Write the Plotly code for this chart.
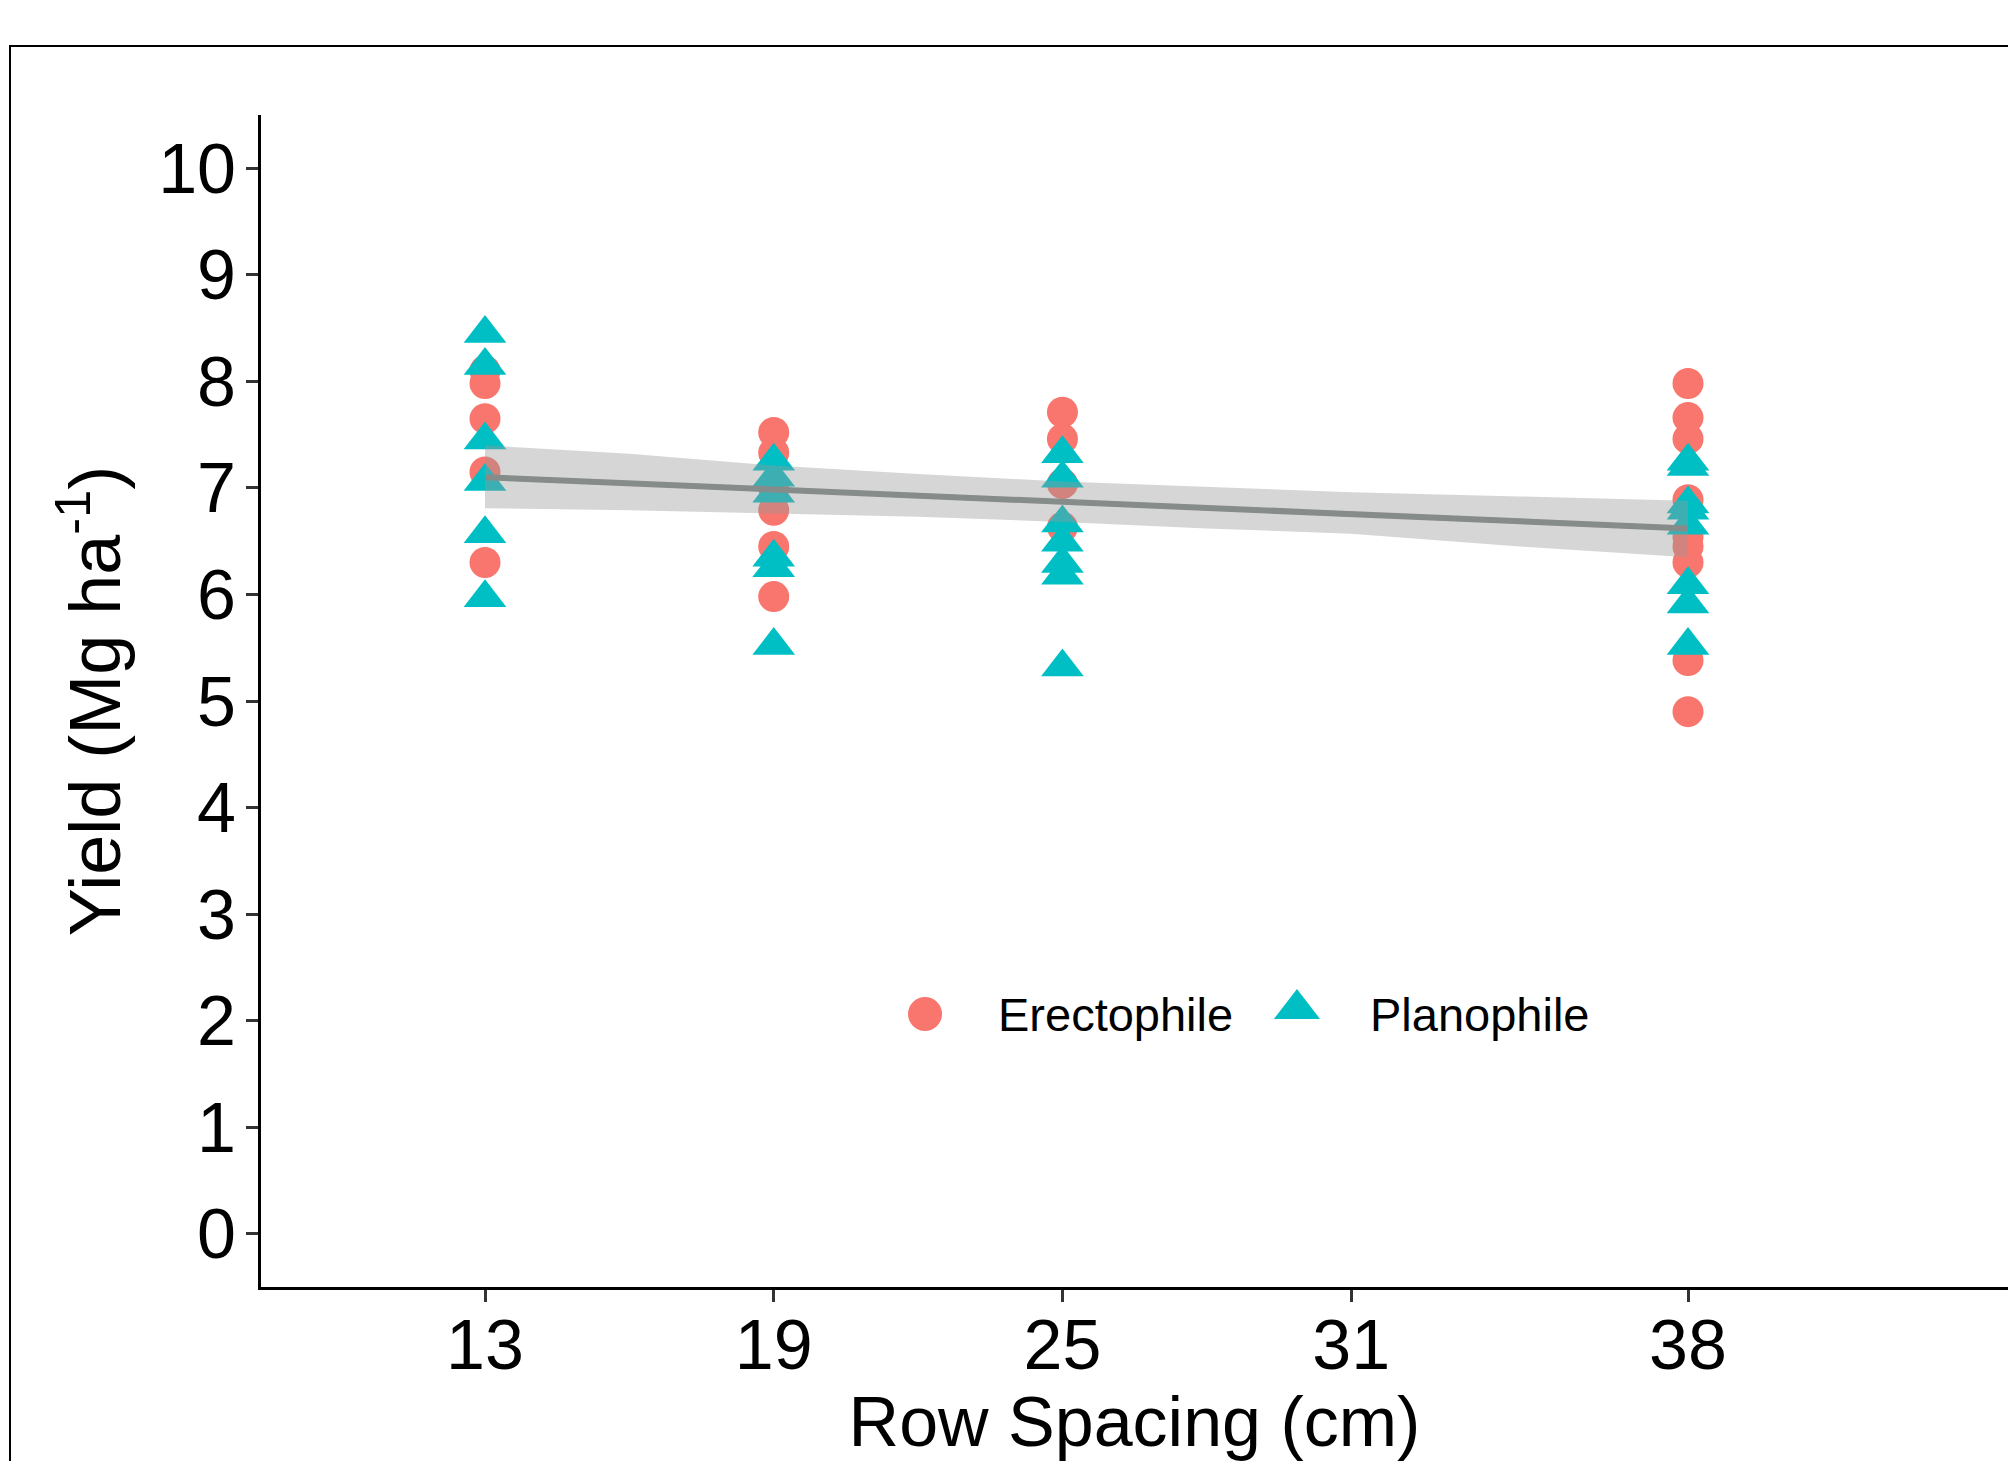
import plotly.graph_objects as go

# ---------------- data ----------------
erecto_x = [13, 13, 13, 13, 13,
            19, 19, 19, 19, 19, 19,
            25, 25, 25, 25,
            38, 38, 38, 38, 38, 38, 38, 38, 38]
erecto_y = [8.10, 7.98, 7.65, 7.15, 6.30,
            7.52, 7.33, 7.00, 6.79, 6.45, 5.98,
            7.71, 7.46, 7.04, 6.63,
            7.98, 7.66, 7.46, 6.89, 6.54, 6.45, 6.30, 5.38, 4.90]

plano_x = [13, 13, 13, 13, 13, 13,
           19, 19, 19, 19, 19, 19,
           25, 25, 25, 25, 25, 25, 25,
           38, 38, 38, 38, 38, 38, 38, 38]
plano_y = [8.45, 8.15, 7.45, 7.06, 6.57, 5.97,
           7.25, 7.10, 6.95, 6.35, 6.25, 5.52,
           7.32, 7.09, 6.67, 6.49, 6.29, 6.18, 5.32,
           7.25, 7.20, 6.85, 6.79, 6.65, 6.09, 5.91, 5.52]

fit_x = [13, 38]
fit_y = [7.10, 6.62]

ci_x = [13, 16, 19, 22, 25, 28, 31, 34.5, 38]
ci_upper = [7.40, 7.32, 7.21, 7.13, 7.06, 7.01, 6.96, 6.92, 6.88]
ci_lower = [6.81, 6.79, 6.76, 6.73, 6.68, 6.62, 6.57, 6.45, 6.35]

x_ticks = [13, 19, 25, 31, 38]
y_ticks = list(range(0, 11))

group_names = ["Erectophile", "Planophile"]
group_colors = ["#F8766D", "#00BFC4"]
group_symbols = ["circle", "triangle-up"]

# ---------------- figure ----------------
FONT = "Liberation Sans, Arial, sans-serif"
W, H = 2008, 1461
ML, MR, MT, MB = 261, 0, 115, 174

fig = go.Figure()

fig.add_trace(go.Scatter(
    x=erecto_x, y=erecto_y, mode="markers", name=group_names[0],
    marker=dict(symbol=group_symbols[0], size=31, color=group_colors[0],
                line=dict(width=0)),
    showlegend=False))
fig.add_trace(go.Scatter(
    x=plano_x, y=plano_y, mode="markers", name=group_names[1],
    marker=dict(symbol=group_symbols[1], size=37, color=group_colors[1],
                line=dict(width=0)),
    showlegend=False))

# confidence ribbon
fig.add_trace(go.Scatter(
    x=ci_x + ci_x[::-1], y=ci_upper + ci_lower[::-1],
    mode="lines", fill="toself", fillcolor="rgba(153,153,153,0.4)",
    line=dict(width=0), hoverinfo="skip", showlegend=False))
# regression line
fig.add_trace(go.Scatter(
    x=fit_x, y=fit_y, mode="lines",
    line=dict(color="#858C8A", width=6), showlegend=False))

# manual legend (overlay axes in 0..1 units)
leg_pos = [(0.3801, 0.2329), (0.5930, 0.2372)]
leg_sizes = [34, 40]
for name, col, sym, (lx, ly), s in zip(group_names, group_colors, group_symbols,
                                        leg_pos, leg_sizes):
    fig.add_trace(go.Scatter(
        x=[lx], y=[ly], xaxis="x2", yaxis="y2", mode="markers",
        marker=dict(symbol=sym, size=s, color=col, line=dict(width=0)),
        showlegend=False, hoverinfo="skip"))
leg_text_x = [0.4207, 0.6337]
for name, tx in zip(group_names, leg_text_x):
    fig.add_annotation(x=tx, y=0.2329, xref="paper", yref="paper",
                       text=name, showarrow=False, xanchor="left",
                       yanchor="middle",
                       font=dict(family=FONT, size=47, color="black"))

fig.update_layout(
    width=W, height=H,
    margin=dict(l=ML, r=MR, t=MT, b=MB, pad=0),
    paper_bgcolor="white", plot_bgcolor="white",
    font=dict(family=FONT, color="black"),
    showlegend=False,
    xaxis=dict(
        range=[8.345, 44.65], tickmode="array", tickvals=x_ticks,
        ticktext=[str(v) for v in x_ticks],
        showgrid=False, zeroline=False,
        showline=True, linecolor="black", linewidth=3,
        ticks="outside", ticklen=12, tickwidth=2.5, tickcolor="#333333",
        ticklabelstandoff=-17,
        tickfont=dict(family=FONT, size=70, color="black"),
        title=dict(text="Row Spacing (cm)", standoff=31,
                   font=dict(family=FONT, size=70, color="black")),
        automargin=False,
    ),
    yaxis=dict(
        range=[-0.5, 10.5], tickmode="array", tickvals=y_ticks,
        showgrid=False, zeroline=False,
        showline=True, linecolor="black", linewidth=3,
        ticks="outside", ticklen=12, tickwidth=2.5, tickcolor="#333333",
        ticklabelstandoff=-4,
        tickfont=dict(family=FONT, size=70, color="black"),
        title=dict(text="Yield (Mg ha<sup>-1</sup>)", standoff=14,
                   font=dict(family=FONT, size=72, color="black")),
        automargin=False,
    ),
    xaxis2=dict(range=[0, 1], overlaying="x", visible=False, fixedrange=True),
    yaxis2=dict(range=[0, 1], overlaying="y", visible=False, fixedrange=True),
    shapes=[dict(type="rect", xref="paper", yref="paper",
                 x0=(10 - ML) / (W - ML - MR), x1=1.2,
                 y0=-0.4, y1=(H - MB - 46) / (H - MT - MB),
                 line=dict(color="black", width=2), fillcolor="rgba(0,0,0,0)",
                 layer="below")],
)

fig.write_html("out.html",
               config={"displayModeBar": False},
               post_script="document.body.style.margin='0px';document.body.style.overflow='hidden';")
